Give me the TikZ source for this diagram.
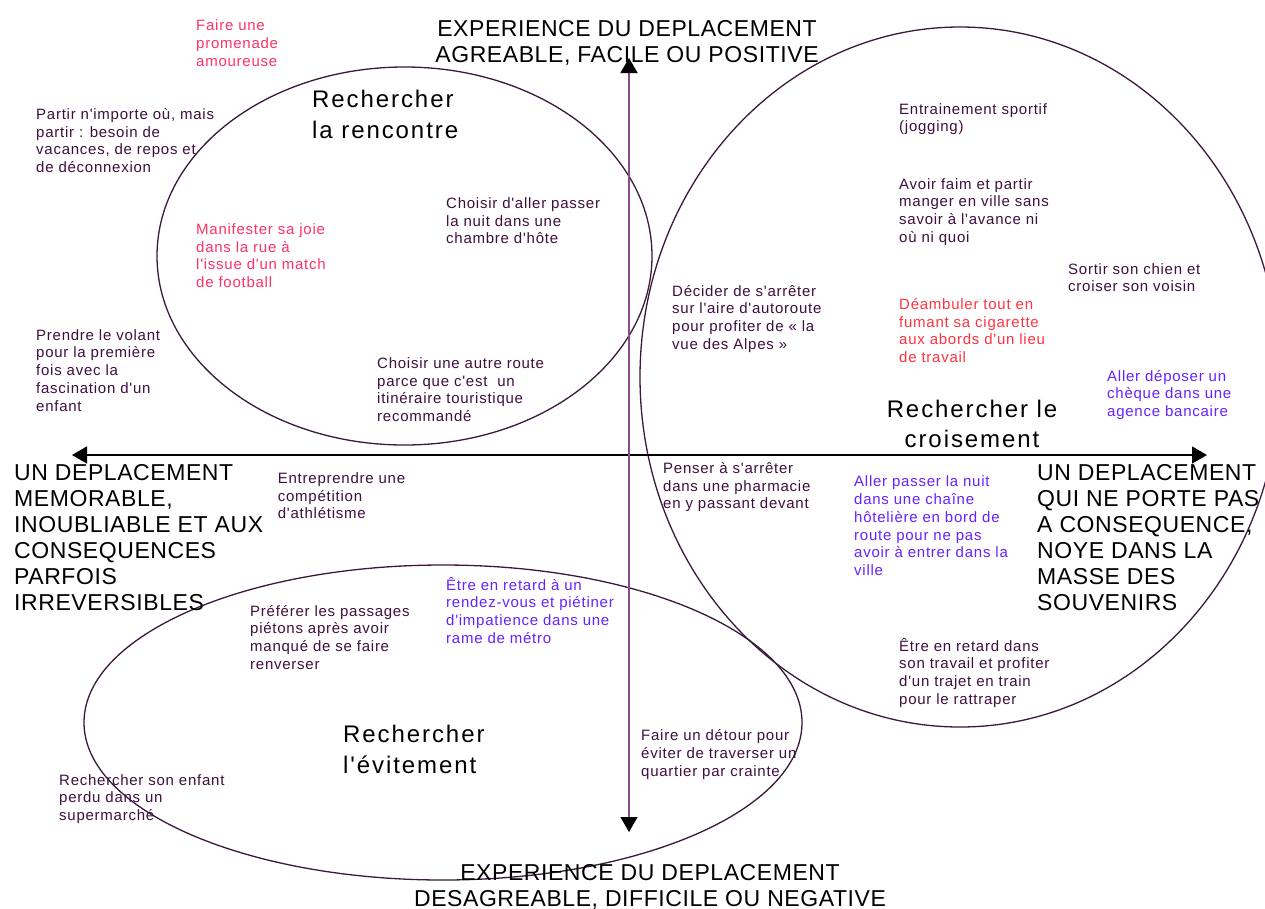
\documentclass[tikz,border=0pt]{standalone}
\usepackage{fontspec}
\setmainfont{Liberation Sans}
\newfontfamily\smallf[LetterSpace=5,Ligatures=TeXOff]{Liberation Sans}
\newfontfamily\capsf[LetterSpace=2.5,Ligatures=TeXOff]{Liberation Sans}
\newfontfamily\headf[LetterSpace=8,Ligatures=TeXOff]{Liberation Sans}
\usetikzlibrary{arrows.meta,shapes.geometric}
\definecolor{tdark}{HTML}{3F0F40}
\definecolor{tpink}{HTML}{FF3366}
\definecolor{tred}{HTML}{FF3340}
\definecolor{tviolet}{HTML}{6622FF}
\definecolor{eline}{HTML}{3A1A3A}
\definecolor{vline}{HTML}{8C4A8E}
\begin{document}
\begin{tikzpicture}[x=1pt,y=-1pt,
  txt/.style={anchor=base west, inner sep=0pt, align=left, text=tdark, font=\smallf\fontsize{15}{17.8}\selectfont},
  pinktxt/.style={txt, text=tpink},
  redtxt/.style={txt, text=tred},
  viotxt/.style={txt, text=tviolet},
  bigcap/.style={inner sep=0pt, text=black, font=\capsf\fontsize{23}{26}\selectfont},
  headtxt/.style={inner sep=0pt, text=black, font=\headf\fontsize{24}{30.6}\selectfont},
  zone/.style={ellipse, draw=eline, line width=1.3pt, inner sep=0pt},
  axisline/.style={line width=1.4pt, {Triangle[length=15pt,width=17pt,color=black]}-{Triangle[length=15pt,width=17pt,color=black]}}
]
\useasboundingbox (0,0) rectangle (1265,908);
\clip (0,0) rectangle (1265,908);
\fill[white] (0,0) rectangle (1265,908);

% zones
\node[zone, minimum width=495, minimum height=378] (rencontre) at (404.5,256) {};
\node[zone, minimum width=640, minimum height=700] (croisement) at (960,377) {};
\node[zone, minimum width=718, minimum height=315] (evitement) at (443,722.5) {};

% axes
\coordinate (ytop) at (629,58);
\coordinate (ybot) at (629,832);
\coordinate (xleft) at (72,455);
\coordinate (xright) at (1207,455);
\draw[axisline, draw=black] (xleft) -- (xright);
\draw[axisline, draw=vline] (ytop) -- (ybot);

% axis labels (anchored at the baseline of the last line)
\node[bigcap, anchor=base, align=center] (lblTop) at (627,62) {EXPERIENCE DU DEPLACEMENT\\AGREABLE, FACILE OU POSITIVE};
\node[bigcap, anchor=base, align=center] (lblBot) at (650,906) {EXPERIENCE DU DEPLACEMENT\\DESAGREABLE, DIFFICILE OU NEGATIVE};
\node[bigcap, anchor=base west, align=left] (lblLeft) at (14,610) {UN DEPLACEMENT\\MEMORABLE,\\INOUBLIABLE ET AUX\\CONSEQUENCES\\PARFOIS\\IRREVERSIBLES};
\node[bigcap, anchor=base west, align=left] (lblRight) at (1037,610) {UN DEPLACEMENT\\QUI NE PORTE PAS\\A CONSEQUENCE,\\NOYE DANS LA\\MASSE DES\\SOUVENIRS};

% headings
\node[headtxt, anchor=base west, align=left] (hRencontre) at (312,138) {Rechercher\\la rencontre};
\node[headtxt, anchor=base, align=center] (hCroisement) at (972,447.6) {Rechercher le\\croisement};
\node[headtxt, anchor=base west, align=left] (hEvitement) at (343,773.3) {Rechercher\\l'évitement};

% items
\node[pinktxt] (t1) at (196,66.3) {Faire une\\promenade\\amoureuse};
\node[txt] (t2) at (36,172.7) {Partir n'importe où, mais\\partir : besoin de\\vacances, de repos et\\de déconnexion};
\node[pinktxt] (t3) at (196,287.7) {Manifester sa joie\\dans la rue à\\l'issue d'un match\\de football};
\node[txt] (t4) at (446,243.9) {Choisir d'aller passer\\la nuit dans une\\chambre d'hôte};
\node[txt] (t5) at (672,349.4) {Décider de s'arrêter\\sur l'aire d'autoroute\\pour profiter de « la\\vue des Alpes »};
\node[txt] (t6) at (899,131.8) {Entrainement sportif\\(jogging)};
\node[txt] (t7) at (899,242.4) {Avoir faim et partir\\manger en ville sans\\savoir à l'avance ni\\où ni quoi};
\node[txt] (t8) at (1068,291.8) {Sortir son chien et\\croiser son voisin};
\node[redtxt] (t9) at (899,362.7) {Déambuler tout en\\fumant sa cigarette\\aux abords d'un lieu\\de travail};
\node[viotxt] (t10) at (1107,416.6) {Aller déposer un\\chèque dans une\\agence bancaire};
\node[txt] (t11) at (36,411.2) {Prendre le volant\\pour la première\\fois avec la\\fascination d'un\\enfant};
\node[txt] (t12) at (377,421.7) {Choisir une autre route\\parce que c'est \ un\\itinéraire touristique\\recommandé};
\node[txt] (t13) at (277.7,518.9) {Entreprendre une\\compétition\\d'athlétisme};
\node[txt] (t14) at (663,508.9) {Penser à s'arrêter\\dans une pharmacie\\en y passant devant};
\node[viotxt] (t15) at (854,575.7) {Aller passer la nuit\\dans une chaîne\\hôtelière en bord de\\route pour ne pas\\avoir à entrer dans la\\ville};
\node[txt] (t16) at (899,704.4) {Être en retard dans\\son travail et profiter\\d'un trajet en train\\pour le rattraper};
\node[txt] (t17) at (250,669.4) {Préférer les passages\\piétons après avoir\\manqué de se faire\\renverser};
\node[viotxt] (t18) at (446,643.4) {Être en retard à un\\rendez-vous et piétiner\\d'impatience dans une\\rame de métro};
\node[txt] (t19) at (59,820.6) {Rechercher son enfant\\perdu dans un\\supermarché};
\node[txt] (t20) at (641,776.3) {Faire un détour pour\\éviter de traverser un\\quartier par crainte};
\end{tikzpicture}
\end{document}
